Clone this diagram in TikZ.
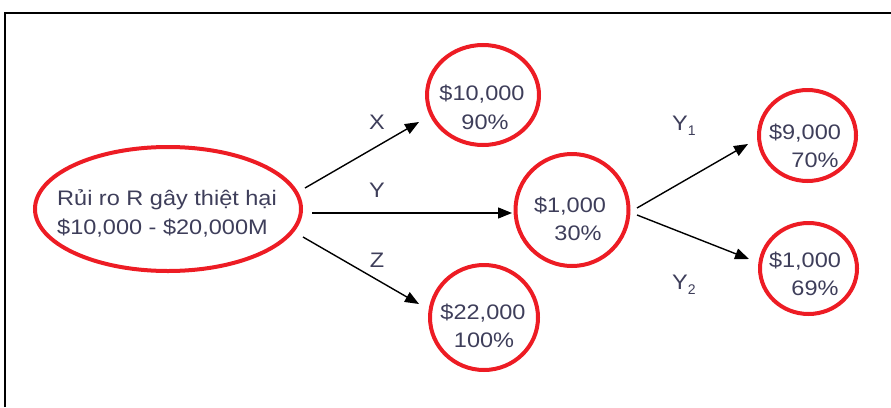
\documentclass[tikz,border=0pt]{standalone}
\usepackage{fontspec}
\setmainfont{Liberation Sans}
\usetikzlibrary{arrows.meta,shapes.geometric}
\definecolor{ringred}{RGB}{237,28,36}
\definecolor{txt}{RGB}{62,62,90}
\newcommand{\sx}[1]{\scalebox{1.12}[1]{#1}}
\begin{document}
\begin{tikzpicture}[x=1pt,y=-1pt,
  ring/.style={draw=ringred, line width=4pt, ellipse, inner sep=0pt},
  lab/.style={text=txt, font=\fontsize{21}{28}\selectfont, inner sep=0pt, text height=15pt, text depth=0pt},
  arr/.style={draw=black, line width=1.4pt, -{Triangle[length=14pt,width=11pt]}}]
\useasboundingbox (0,0) rectangle (891,407);
\coordinate (fbl) at (5,407);
\coordinate (ftl) at (5,13);
\coordinate (ftr) at (891,13);
\draw[line width=2.2pt] (fbl) -- (ftl) -- (ftr);

% rings
\node[ring, minimum width=266pt, minimum height=124pt] (root) at (168,209) {};
\node[ring, minimum width=112pt, minimum height=100pt] (c1) at (483,95) {};
\node[ring, minimum width=113pt, minimum height=112pt] (c2) at (572,210) {};
\node[ring, minimum width=108pt, minimum height=105pt] (c3) at (484,317.5) {};
\node[ring, minimum width=97pt, minimum height=91pt] (c4) at (807.5,135.5) {};
\node[ring, minimum width=97pt, minimum height=91pt] (c5) at (808.5,268.5) {};

% texts
\node[lab, anchor=west] (r1) at (57,198) {\sx{Rủi ro R gây thiệt hại}};
\node[lab, anchor=west] (r2) at (57,227) {\sx{\$10,000 - \$20,000M}};
\node[lab] (t1a) at (482,93) {\sx{\$10,000}};
\node[lab] (t1b) at (485,122) {\sx{90\%}};
\node[lab] (t2a) at (570,205) {\sx{\$1,000}};
\node[lab] (t2b) at (578,233) {\sx{30\%}};
\node[lab] (t3a) at (483,312) {\sx{\$22,000}};
\node[lab] (t3b) at (484,340) {\sx{100\%}};
\node[lab] (t4a) at (805,132) {\sx{\$9,000}};
\node[lab] (t4b) at (815,160) {\sx{70\%}};
\node[lab] (t5a) at (805,260) {\sx{\$1,000}};
\node[lab] (t5b) at (815,288) {\sx{69\%}};

% edge labels
\node[lab] (lx) at (377,122) {\sx{X}};
\node[lab] (ly) at (377,190) {\sx{Y}};
\node[lab] (lz) at (377,260) {\sx{Z}};
\node[lab, anchor=west] (ly1) at (672,123) {\sx{Y}\raisebox{-5pt}{\fontsize{14}{14}\selectfont 1}};
\node[lab, anchor=west] (ly2) at (672,282) {\sx{Y}\raisebox{-5pt}{\fontsize{14}{14}\selectfont 2}};

% arrows
\coordinate (aX0) at (305,188);
\coordinate (aX1) at (419,122);
\coordinate (aY0) at (312,213);
\coordinate (aY1) at (512,213);
\coordinate (aZ0) at (303,237);
\coordinate (aZ1) at (419,304);
\coordinate (aA0) at (637,208);
\coordinate (aA1) at (748,144);
\coordinate (aB0) at (637,215);
\coordinate (aB1) at (749,259);
\draw[arr] (aX0) -- (aX1);
\draw[arr] (aY0) -- (aY1);
\draw[arr] (aZ0) -- (aZ1);
\draw[arr] (aA0) -- (aA1);
\draw[arr] (aB0) -- (aB1);
\end{tikzpicture}
\end{document}
